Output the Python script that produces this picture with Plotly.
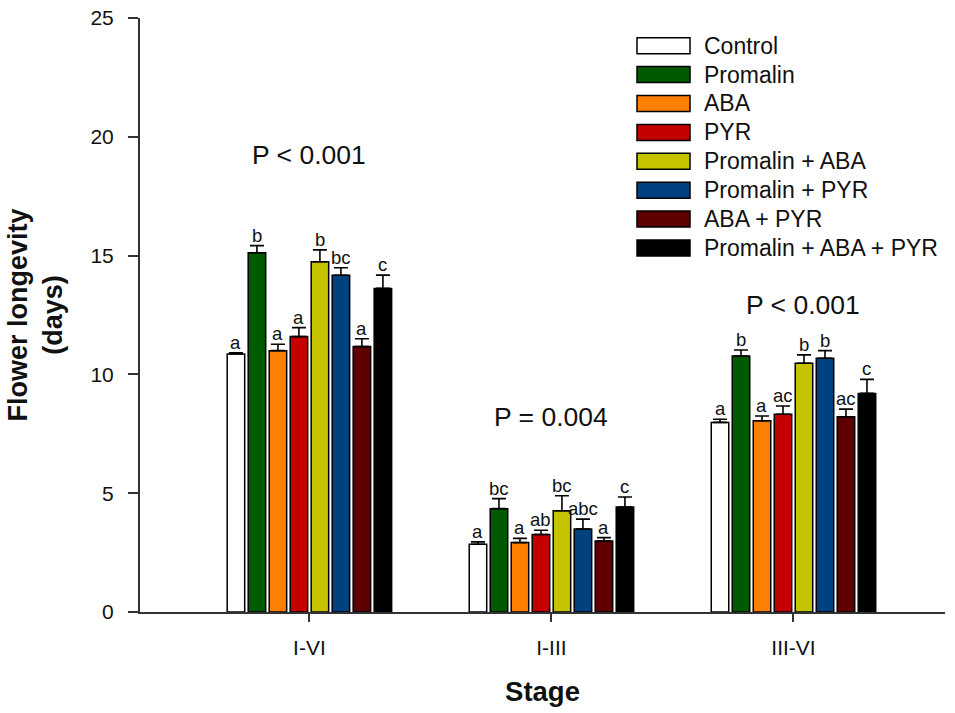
import plotly.graph_objects as go

# Stages of flower development (x categories)
stages = ["I-VI", "I-III", "III-VI"]

# Treatments, in plotting order
treatments = ["Control", "Promalin", "ABA", "PYR", "Promalin + ABA",
              "Promalin + PYR", "ABA + PYR", "Promalin + ABA + PYR"]

# Mean flower longevity (days) per treatment, one value per stage
control = [10.86, 2.85, 7.98]
promalin = [15.12, 4.35, 10.77]
aba = [11.00, 2.92, 8.05]
pyr = [11.59, 3.26, 8.32]
promalin_aba = [14.74, 4.26, 10.47]
promalin_pyr = [14.17, 3.49, 10.68]
aba_pyr = [11.17, 2.99, 8.22]
promalin_aba_pyr = [13.62, 4.42, 9.20]

# Standard errors
control_se = [0.05, 0.10, 0.13]
promalin_se = [0.30, 0.42, 0.26]
aba_se = [0.27, 0.18, 0.20]
pyr_se = [0.38, 0.18, 0.35]
promalin_aba_se = [0.50, 0.63, 0.35]
promalin_pyr_se = [0.32, 0.42, 0.32]
aba_pyr_se = [0.33, 0.14, 0.32]
promalin_aba_pyr_se = [0.56, 0.42, 0.59]

# Significance letters per stage (one per treatment)
letters_i_vi = ["a", "b", "a", "a", "b", "bc", "a", "c"]
letters_i_iii = ["a", "bc", "a", "ab", "bc", "abc", "a", "c"]
letters_iii_vi = ["a", "b", "a", "ac", "b", "b", "ac", "c"]

# ANOVA results per stage
p_labels = ["P < 0.001", "P = 0.004", "P < 0.001"]

means = [control, promalin, aba, pyr, promalin_aba, promalin_pyr, aba_pyr, promalin_aba_pyr]
errors = [control_se, promalin_se, aba_se, pyr_se, promalin_aba_se, promalin_pyr_se,
          aba_pyr_se, promalin_aba_pyr_se]
letters = [letters_i_vi, letters_i_iii, letters_iii_vi]

colors = ["#ffffff", "#005a00", "#ff8000", "#c40000", "#c6c400",
          "#00427f", "#5e0000", "#000000"]

FONT = "Liberation Sans, Arial, sans-serif"
TEXT = "#111111"
BARGAP = 0.306
GROUPGAP = 0.167
n = len(treatments)
slot = (1 - BARGAP) / n

fig = go.Figure()
for i, name in enumerate(treatments):
    fig.add_trace(go.Bar(
        x=stages, y=means[i], name=name,
        marker=dict(color=colors[i], line=dict(color="#000000", width=1.5)),
        error_y=dict(type="data", array=errors[i], arrayminus=[0] * len(stages),
                     symmetric=False, color="#000000", thickness=1.6, width=7),
        showlegend=False,
    ))

annotations = []
# significance letters above each error bar
for g in range(len(stages)):
    for i in range(n):
        annotations.append(dict(
            x=g + (i - (n - 1) / 2) * slot, y=means[i][g] + errors[i][g],
            xref="x", yref="y", text=letters[g][i], showarrow=False,
            yanchor="bottom", yshift=-2,
            font=dict(family=FONT, size=18.5, color=TEXT),
        ))

# P-values per stage
p_pos = [(0.0, 19.25), (1.0, 8.22), (2.04, 12.92)]
for (px, py), lab in zip(p_pos, p_labels):
    annotations.append(dict(x=px, y=py, xref="x", yref="y", text=lab, showarrow=False,
                            font=dict(family=FONT, size=26.5, color=TEXT)))

# Legend: wide swatches with labels at the top right
PLOT_L, PLOT_R, PLOT_T, PLOT_B = 140, 945, 18, 612
def px_x(p):
    return (p - PLOT_L) / (PLOT_R - PLOT_L)
def px_y(p):
    return (PLOT_B - p) / (PLOT_B - PLOT_T)

shapes = []
row0, row_step = 45.7, 28.9
for i, name in enumerate(treatments):
    cy = row0 + i * row_step
    shapes.append(dict(type="rect", xref="paper", yref="paper",
                       x0=px_x(637), x1=px_x(690), y0=px_y(cy + 8), y1=px_y(cy - 8),
                       fillcolor=colors[i], line=dict(color="#000000", width=1.5)))
    annotations.append(dict(x=px_x(702), y=px_y(cy), xref="paper", yref="paper",
                            text=name, showarrow=False, xanchor="left", yanchor="middle",
                            font=dict(family=FONT, size=23, color=TEXT)))

fig.update_layout(
    width=955, height=713,
    margin=dict(l=PLOT_L, r=955 - PLOT_R, t=PLOT_T, b=713 - PLOT_B, autoexpand=False),
    paper_bgcolor="#ffffff", plot_bgcolor="#ffffff",
    barmode="group", bargap=BARGAP, bargroupgap=GROUPGAP,
    font=dict(family=FONT, color=TEXT),
    annotations=annotations, shapes=shapes,
    showlegend=False,
)
fig.update_xaxes(
    type="category", range=[-0.700, 2.626],
    showline=True, linecolor="#333333", linewidth=2,
    ticks="outside", ticklen=8, tickwidth=1.5, tickcolor="#333333",
    tickfont=dict(family=FONT, size=21, color=TEXT), ticklabelstandoff=8,
    showgrid=False, zeroline=False,
    title=dict(text="<b>Stage</b>", font=dict(family=FONT, size=27.5, color=TEXT), standoff=24),
)
fig.update_yaxes(
    range=[0, 25], tickvals=[0, 5, 10, 15, 20, 25],
    showline=True, linecolor="#333333", linewidth=2,
    ticks="outside", ticklen=10, tickwidth=1.5, tickcolor="#333333",
    tickfont=dict(family=FONT, size=21, color=TEXT), ticklabelstandoff=10,
    showgrid=False, zeroline=False,
    title=dict(text="<b>Flower longevity<br>(days)</b>",
               font=dict(family=FONT, size=27, color=TEXT), standoff=20),
)

fig.write_html("out.html")
